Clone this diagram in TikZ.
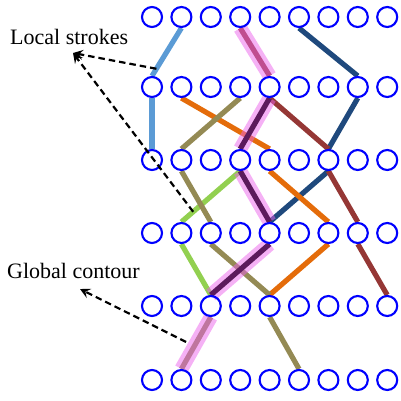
\documentclass[tikz,border=0pt]{standalone}
\usepackage{fontspec}
\setmainfont{Liberation Serif}
\usetikzlibrary{arrows.meta,calc,backgrounds}

\definecolor{cblue}{RGB}{0,0,255}
\definecolor{lightblue}{RGB}{91,155,213}
\definecolor{darkblue}{RGB}{31,73,125}
\definecolor{orangeline}{RGB}{228,108,10}
\definecolor{olive}{RGB}{148,138,84}
\definecolor{brownred}{RGB}{149,55,53}
\definecolor{greenline}{RGB}{146,208,80}
\definecolor{darkpurple}{RGB}{92,26,92}
\definecolor{halo}{RGB}{235,100,235}

\tikzset{
  unit/.style={circle, draw=cblue, line width=2.1pt, minimum size=20pt, inner sep=0pt},
  stroke/.style={line width=5.2pt, line cap=butt},
  contour/.style={line width=14pt, line cap=butt, draw=halo, draw opacity=0.5},
  pointer/.style={line width=2.2pt, dash pattern=on 6.5pt off 4pt,
    -{Stealth[length=10pt, width=10pt, inset=4pt]}},
  caption/.style={anchor=base west, inner sep=0pt, font=\fontsize{22}{26}\selectfont}
}

\begin{document}
\begin{tikzpicture}[x=1pt, y=-1pt]
\useasboundingbox (0,0) rectangle (401,401);

% grid of units: 6 rows, 9 columns
\foreach \r/\yy in {0/17, 1/87, 2/160, 3/233, 4/306, 5/380}{
  \foreach \c in {0,...,8}{
    \node[unit] (n\r-\c) at ({152+29.4*\c}, \yy) {};
  }
}

\begin{pgfonlayer}{background}
  % light blue stroke
  \draw[stroke, lightblue] (n0-1.south) -- (n1-0.north);
  \draw[stroke, lightblue] (n1-0.south) -- (n2-0.north);
  % dark blue stroke
  \draw[stroke, darkblue] (n0-5.south) -- (n1-7.north);
  \draw[stroke, darkblue] (n1-7.south) -- (n2-6.north);
  \draw[stroke, darkblue] (n2-6.south) -- (n3-4.north);
  % orange stroke
  \draw[stroke, orangeline] (n1-1.south) -- (n2-4.north);
  \draw[stroke, orangeline] (n2-4.south) -- (n3-6.north);
  \draw[stroke, orangeline] (n3-6.south) -- (n4-4.north);
  % brown-red stroke
  \draw[stroke, brownred] (n0-3.south) -- (n1-4.north);
  \draw[stroke, brownred] (n1-4.south) -- (n2-6.north);
  \draw[stroke, brownred] (n2-6.south) -- (n3-7.north);
  \draw[stroke, brownred] (n3-7.south) -- (n4-8.north);
  % green stroke
  \draw[stroke, greenline] (n2-3.south) -- (n3-1.north);
  \draw[stroke, greenline] (n3-1.south) -- (n4-2.north);
  % olive strokes
  \draw[stroke, olive] (n1-3.south) -- (n2-1.north);
  \draw[stroke, olive] (n2-1.south) -- (n3-2.north);
  \draw[stroke, olive] (n3-2.south) -- (n4-4.north);
  \draw[stroke, olive] (n4-4.south) -- (n5-5.north);
  \draw[stroke, olive] (n4-2.south) -- (n5-1.north);
  % global contour highlight
  \draw[contour] (n0-3.south) -- (n1-4.north);
  \draw[contour] (n1-4.south) -- (n2-3.north);
  \draw[contour] (n2-3.south) -- (n3-4.north);
  \draw[contour] (n3-4.south) -- (n4-2.north);
  \draw[contour] (n4-2.south) -- (n5-1.north);
  % dark purple stroke
  \draw[stroke, darkpurple] (n1-4.south) -- (n2-3.north);
  \draw[stroke, darkpurple] (n2-3.south) -- (n3-4.north);
  \draw[stroke, darkpurple] (n3-4.south) -- (n4-2.north);
\end{pgfonlayer}

% labels
\node[caption] (local) at (10,45) {Local strokes};
\node[caption] (global) at (7,278) {Global contour};

% pointers
\coordinate (localtip) at (73,53);
\coordinate (globaltip) at (80,289);
\draw[pointer] ($(n0-1.south)!0.85!(n1-0.north)$) -- (localtip);
\draw[pointer] ($(n2-3.south)!0.8!(n3-1.north)$) -- (localtip);
\draw[pointer] ($(n4-2.south)!0.5!(n5-1.north) + (-10,-1)$) -- (globaltip);
\end{tikzpicture}
\end{document}
